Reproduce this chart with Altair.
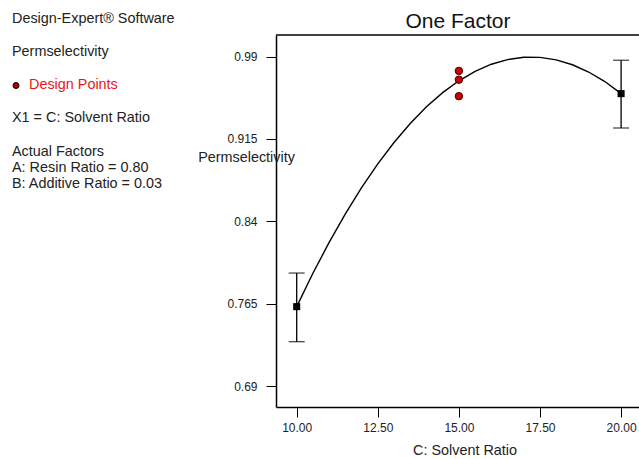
import altair as alt
import pandas as pd

# ---- data ----
curve_x = [10.0, 10.5, 11.0, 11.5, 12.0, 12.5, 13.0, 13.5, 14.0, 14.5, 15.0,
           15.5, 16.0, 16.5, 17.0, 17.5, 18.0, 18.5, 19.0, 19.5, 20.0]
curve_y = [0.7623, 0.7927, 0.8208, 0.8468, 0.8707, 0.8923, 0.9118, 0.9291, 0.9443, 0.9572, 0.9680,
           0.9766, 0.9831, 0.9873, 0.9894, 0.9893, 0.9871, 0.9826, 0.9760, 0.9673, 0.9563]

design_x = [15.0, 15.0, 15.0]
design_y = [0.977, 0.969, 0.954]

mean_x = [10.0, 20.0]
mean_y = [0.7623, 0.9563]
lower_y = [0.7304, 0.9250]
upper_y = [0.7929, 0.9867]

y_ticks = [0.69, 0.765, 0.84, 0.915, 0.99]
x_ticks = [10.0, 12.5, 15.0, 17.5, 20.0]

panel_lines = ["Design-Expert\u00ae Software", "Permselectivity", "X1 = C: Solvent Ratio",
               "Actual Factors", "A: Resin Ratio = 0.80", "B: Additive Ratio = 0.03"]

curve_df = pd.DataFrame({"x": curve_x, "y": curve_y})
design_df = pd.DataFrame({"x": design_x, "y": design_y})
mean_df = pd.DataFrame({"x": mean_x, "y": mean_y, "lo": lower_y, "hi": upper_y})
one = pd.DataFrame({"a": [0]})

W, H = 363, 372
FONT = "Liberation Sans"

xs = alt.Scale(domain=[9.362, 20.552], nice=False, zero=False)
ys = alt.Scale(domain=[0.6709, 1.0097], nice=False, zero=False)

x_axis = alt.Axis(values=x_ticks, format=".2f", tickSize=10, labelPadding=5, grid=False,
                  domainColor="black", domainWidth=1.5, tickColor="black", labelColor="#222",
                  labelFontSize=12, labelFont=FONT, title="")
y_axis = alt.Axis(values=y_ticks, labelExpr="'' + datum.value", tickSize=10, labelPadding=9,
                  grid=False, domainColor="black", domainWidth=1.5, tickColor="black",
                  labelColor="#222", labelFontSize=12, labelFont=FONT, title="")

curve = alt.Chart(curve_df).mark_line(color="black", strokeWidth=1.4).encode(
    x=alt.X("x:Q", scale=xs, axis=x_axis),
    y=alt.Y("y:Q", scale=ys, axis=y_axis),
)

err = alt.Chart(mean_df).mark_rule(color="black", strokeWidth=1.3).encode(
    x=alt.X("x:Q", scale=xs), y=alt.Y("lo:Q", scale=ys), y2="hi:Q")
cap_lo = alt.Chart(mean_df).mark_tick(color="black", orient="horizontal", size=16, thickness=1.3).encode(
    x=alt.X("x:Q", scale=xs), y=alt.Y("lo:Q", scale=ys))
cap_hi = alt.Chart(mean_df).mark_tick(color="black", orient="horizontal", size=16, thickness=1.3).encode(
    x=alt.X("x:Q", scale=xs), y=alt.Y("hi:Q", scale=ys))
means = alt.Chart(mean_df).mark_point(shape="square", filled=True, color="black", size=50, opacity=1).encode(
    x=alt.X("x:Q", scale=xs), y=alt.Y("y:Q", scale=ys))

design = alt.Chart(design_df).mark_point(shape="circle", filled=True, fill="#d00000", stroke="#3a0000",
                                         strokeWidth=1, size=55, opacity=1).encode(
    x=alt.X("x:Q", scale=xs), y=alt.Y("y:Q", scale=ys))

top_rule = alt.Chart(one).mark_rule(color="black", strokeWidth=1.5).encode(
    x=alt.value(0), x2=alt.value(W + 5), y=alt.value(0))


def txt(s, x, y, size=14.4, color="#222", align="left"):
    return alt.Chart(one).mark_text(text=s, font=FONT, fontSize=size, color=color, align=align,
                                    baseline="middle").encode(x=alt.value(x), y=alt.value(y))


title = txt("One Factor", 182, -13, size=21, color="#111", align="center")
ytitle = txt("Permselectivity", -29.5, 123, align="center")
xtitle = txt("C: Solvent Ratio", 189, 416, align="center")

panel_y = [-16, 17, 83, 117, 133, 149]
panel = [txt(s, -264, yy) for s, yy in zip(panel_lines, panel_y)]
legend_dot = alt.Chart(one).mark_point(shape="circle", filled=True, fill="#a00000", stroke="#200000",
                                       strokeWidth=1, size=36, opacity=1).encode(
    x=alt.value(-260), y=alt.value(50.5))
legend_txt = txt("Design Points", -247, 50, color="#e8161b")

chart = alt.layer(
    curve, err, cap_lo, cap_hi, means, design, top_rule, title, ytitle, xtitle,
    legend_dot, legend_txt, *panel
).properties(
    width=W, height=H,
    autosize=alt.AutoSizeParams(type="none"),
    padding={"left": 276, "top": 35, "right": 0, "bottom": 52},
    background="white",
).configure_view(stroke=None)

chart.save("out.html", embed_options={"renderer": "svg", "actions": False})
